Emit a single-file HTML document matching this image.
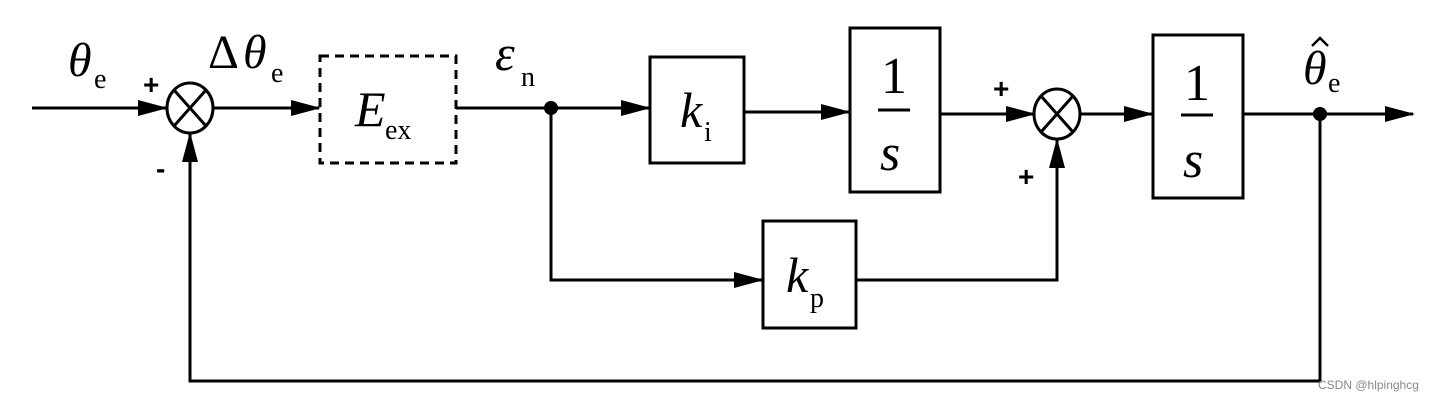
<!DOCTYPE html>
<html><head><meta charset="utf-8"><style>
html,body{margin:0;padding:0;background:#fff;}
svg text{font-family:"Liberation Serif",serif;fill:#000;}
.i{font-style:italic;}
.p{font-family:"Liberation Sans",sans-serif;font-weight:bold;font-size:28px;}
</style></head><body>
<svg width="1452" height="400" viewBox="0 0 1452 400" xmlns="http://www.w3.org/2000/svg">
<defs><marker id="a" markerWidth="30" markerHeight="20" refX="28" refY="10" orient="auto" markerUnits="userSpaceOnUse"><path d="M0,2 L30,10 L0,18 Z" fill="#000"/></marker></defs>
<g stroke="#000" stroke-width="3" fill="none">
<line x1="32" y1="108" x2="166" y2="108" marker-end="url(#a)"/>
<ellipse cx="190" cy="108" rx="23" ry="25"/>
<line x1="174" y1="90" x2="206" y2="126"/><line x1="206" y1="90" x2="174" y2="126"/>
<line x1="213" y1="108" x2="319" y2="108" marker-end="url(#a)"/>
<rect x="320" y="56" width="136" height="107" stroke-dasharray="9,6"/>
<line x1="456" y1="108" x2="649" y2="108" marker-end="url(#a)"/>
<rect x="650" y="57" width="94" height="106"/>
<line x1="744" y1="112" x2="849" y2="112" marker-end="url(#a)"/>
<rect x="850" y="28" width="90" height="164"/>
<line x1="940" y1="114" x2="1034" y2="114" marker-end="url(#a)"/>
<ellipse cx="1057" cy="114" rx="23" ry="25"/>
<line x1="1041" y1="96" x2="1073" y2="132"/><line x1="1073" y1="96" x2="1041" y2="132"/>
<line x1="1080" y1="114" x2="1152" y2="114" marker-end="url(#a)"/>
<rect x="1153" y="35" width="90" height="163"/>
<line x1="1243" y1="114" x2="1413" y2="114" marker-end="url(#a)"/>
<polyline points="551,108 551,280 762,280" marker-end="url(#a)"/>
<rect x="763" y="221" width="93" height="107"/>
<polyline points="856,280 1057,280 1057,140" marker-end="url(#a)"/>
<polyline points="1320,114 1320,381 190,381 190,134" marker-end="url(#a)"/>
<line x1="878" y1="110" x2="910" y2="110"/>
<line x1="1181" y1="115" x2="1213" y2="115"/>
<polyline points="1312,46 1320,38 1328,46" stroke-width="2.5"/>
</g>
<circle cx="551" cy="108" r="7" fill="#000"/>
<circle cx="1320" cy="114" r="7" fill="#000"/>
<text class="i" x="68" y="76" font-size="48">θ</text><text x="94" y="88" font-size="28">e</text>
<text x="208" y="68" font-size="48">Δ</text><text class="i" x="243" y="68" font-size="48">θ</text><text x="271" y="82" font-size="28">e</text>
<text class="i" x="355" y="126" font-size="50">E</text><text x="385" y="139" font-size="28">ex</text>
<text class="i" x="495" y="70" font-size="50">ε</text><text x="521" y="86" font-size="28">n</text>
<text class="i" x="680" y="127" font-size="50">k</text><text x="704" y="141" font-size="28">i</text>
<text class="i" x="786" y="292" font-size="50">k</text><text x="810" y="307" font-size="28">p</text>
<text x="881" y="93" font-size="52">1</text><text class="i" x="880" y="170" font-size="52">s</text>
<text x="1184" y="100" font-size="52">1</text><text class="i" x="1183" y="177" font-size="52">s</text>
<text class="i" x="1303" y="84" font-size="48">θ</text><text x="1328" y="92" font-size="28">e</text>
<text class="p" x="143" y="94">+</text>
<text class="p" x="156" y="178">-</text>
<text class="p" x="993" y="98">+</text>
<text class="p" x="1018" y="186">+</text>
<text x="1318" y="389" font-size="12" style="font-family:'Liberation Sans',sans-serif;fill:#888">CSDN @hlpinghcg</text>
</svg>
</body></html>
